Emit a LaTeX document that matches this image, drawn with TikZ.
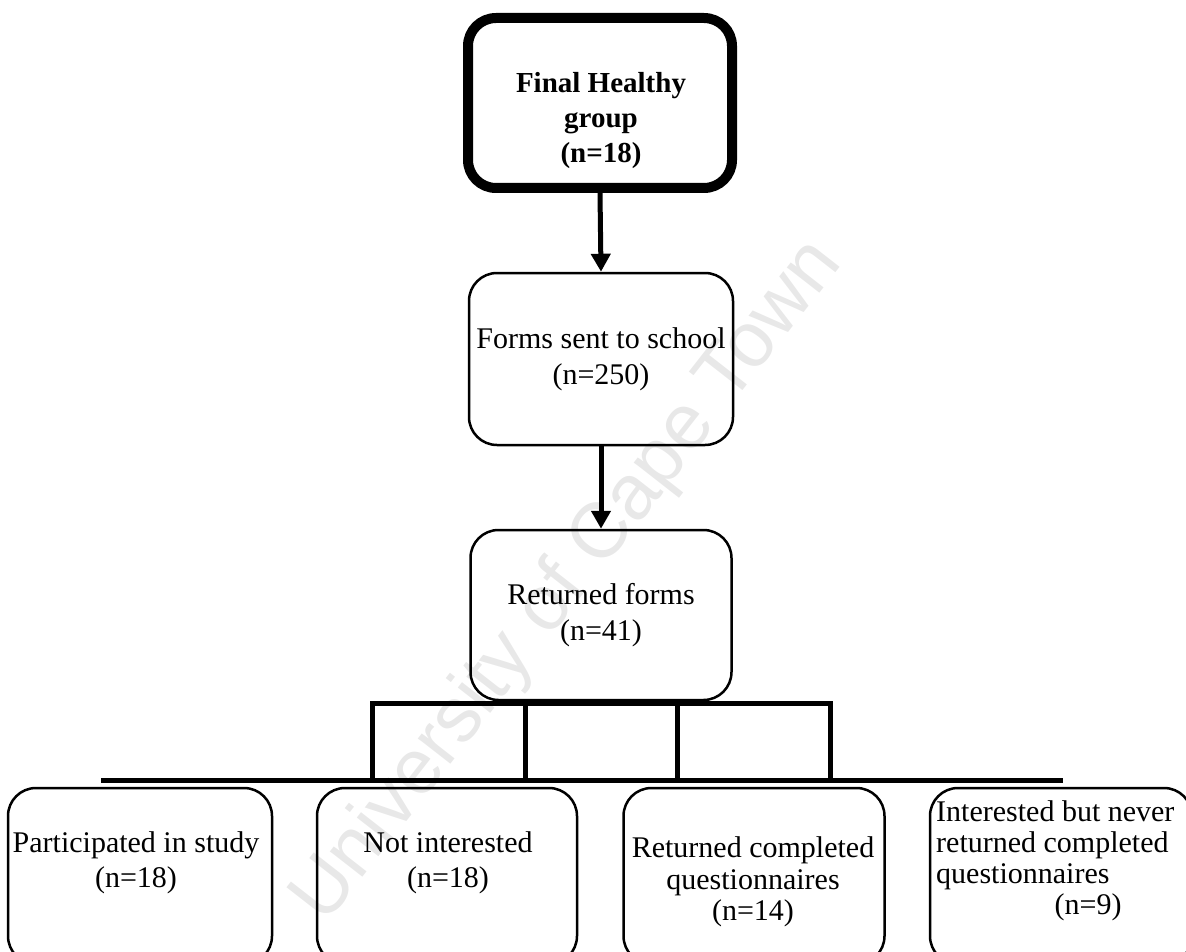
\documentclass[tikz,border=0pt]{standalone}
\usepackage{fontspec}
\setmainfont{Liberation Serif}
\newfontfamily\wmfont{Liberation Sans}
\usetikzlibrary{arrows.meta}
\begin{document}
\begin{tikzpicture}[x=1pt,y=-1pt,
  box/.style={draw, line width=2.5pt, rounded corners=28pt, align=center, inner sep=0pt,
    font=\fontsize{30}{36}\selectfont},
  topbox/.style={box, line width=10pt},
  txt/.style={align=center, inner sep=0pt, font=\fontsize{30}{35}\selectfont},
  arr/.style={line width=5pt, -{Triangle[length=18pt,width=19pt]}},
  conn/.style={line width=5pt, line cap=rect}
]
\useasboundingbox (0,0) rectangle (1186,952);
\clip (0,0) rectangle (1186,952);

% watermark
\node[rotate=52, text=black!9, inner sep=0pt, font=\wmfont\fontsize{78}{78}\selectfont] (wm) at (568,582) {University of Cape Town};

% main chain
\node[topbox, minimum width=264pt, minimum height=170pt] (b1) at (600,103) {};
\node[txt, font=\bfseries\fontsize{29}{35}\selectfont] (t0) at (601,121) {Final Healthy\\group\\(n=18)};
\node[box, minimum width=264pt, minimum height=172pt] (b2) at (601,359) {Forms sent to school\\(n=250)};
\node[box, minimum width=261pt, minimum height=170pt] (b3) at (601,615) {Returned forms\\(n=41)};

\draw[arr] (b1.south) -- (b2.north);
\draw[arr] (b2.south) -- (b3.north);

% bottom boxes (extend past the lower edge)
\node[box, minimum width=264pt, minimum height=176pt] (c1) at (140,876) {};
\node[box, minimum width=260pt, minimum height=176pt] (c2) at (447,876) {};
\node[box, minimum width=261pt, minimum height=176pt] (c3) at (754,876) {};
\node[box, minimum width=262pt, minimum height=176pt] (c4) at (1061,876) {};

\node[txt] (t1) at (136,863) {Participated in study\\(n=18)};
\node[txt] (t2) at (448,863) {Not interested\\(n=18)};
\node[txt, font=\fontsize{30}{31.5}\selectfont] (t3) at (753,882) {Returned completed\\questionnaires\\(n=14)};
\node[txt, align=left, font=\fontsize{30}{31}\selectfont, anchor=west] (t4) at (936,861) {Interested but never\\returned completed\\questionnaires\\\hspace*{3.95em}(n=9)};

% bracket connectors
\coordinate (jL) at (372,703);
\coordinate (jR) at (830,703);
\coordinate (kL) at (372,780);
\coordinate (kR) at (830,780);
\coordinate (mL) at (525,780);
\coordinate (mR) at (677,780);
\coordinate (eL) at (103,780);
\coordinate (eR) at (1060,780);

\draw[conn] (kL) -- (jL) -- (jR) -- (kR);
\draw[conn] (mL) -- (mL |- jL);
\draw[conn] (mR) -- (mR |- jR);
\draw[conn] (eL) -- (eR);
\end{tikzpicture}
\end{document}
